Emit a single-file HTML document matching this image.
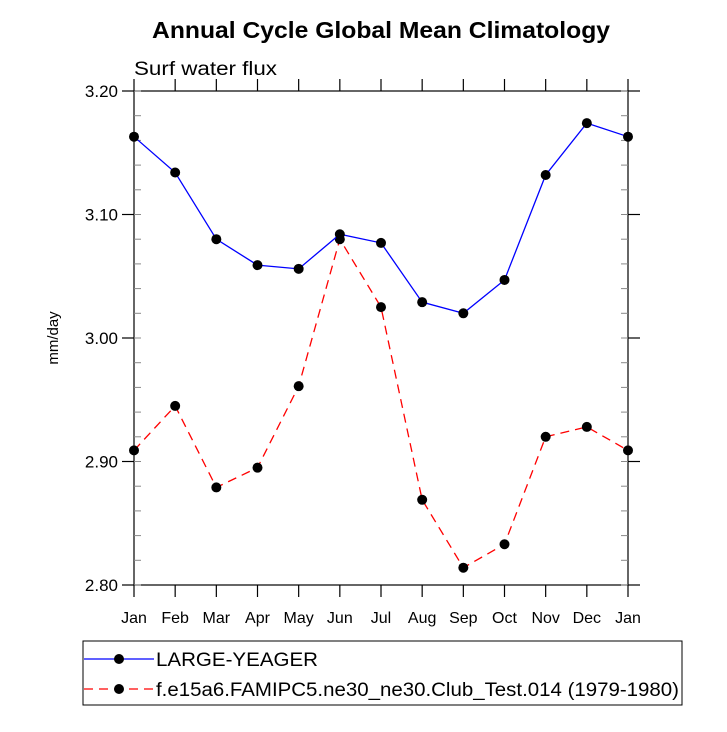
<!DOCTYPE html>
<html><head><meta charset="utf-8"><style>
body{margin:0;background:#fff;}
svg text{font-family:"Liberation Sans",Arial,sans-serif;}
</style></head><body>
<svg id="chart" width="727" height="727" viewBox="0 0 727 727" xmlns="http://www.w3.org/2000/svg">
<text x="152" y="38" font-size="23" font-weight="bold" textLength="458" lengthAdjust="spacingAndGlyphs">Annual Cycle Global Mean Climatology</text>
<text x="134" y="75" font-size="19" textLength="143" lengthAdjust="spacingAndGlyphs">Surf water flux</text>
<text transform="translate(58,338) rotate(-90)" font-size="15" text-anchor="middle">mm/day</text>
<g id="axes"></g>
<g id="series"></g>
<g>
<rect x="83" y="641" width="599" height="64" fill="none" stroke="#000" stroke-width="1"/>
<line x1="84" y1="659" x2="154" y2="659" stroke="#0000ff" stroke-width="1.2"/>
<circle cx="119" cy="659" r="5" fill="#000"/>
<text x="156" y="666" font-size="19" textLength="162" lengthAdjust="spacingAndGlyphs">LARGE-YEAGER</text>
<line x1="84" y1="689" x2="154" y2="689" stroke="#ff0000" stroke-width="1.2" stroke-dasharray="9,6"/>
<circle cx="119" cy="689" r="5" fill="#000"/>
<text x="156" y="696" font-size="19" textLength="523" lengthAdjust="spacingAndGlyphs">f.e15a6.FAMIPC5.ne30_ne30.Club_Test.014 (1979-1980)</text>
</g>
</svg>
<script>
const months=["Jan","Feb","Mar","Apr","May","Jun","Jul","Aug","Sep","Oct","Nov","Dec","Jan"];
const yTicks=[2.8,2.9,3.0,3.1,3.2];
const yTickLabels=["2.80","2.90","3.00","3.10","3.20"];
const largeYeager=[3.163,3.134,3.080,3.059,3.056,3.084,3.077,3.029,3.020,3.047,3.132,3.174,3.163];
const testRun=[2.909,2.945,2.879,2.895,2.961,3.080,3.025,2.869,2.814,2.833,2.920,2.928,2.909];
const L=134,R=628,T=91,B=585,ymin=2.8,ymax=3.2;
const xs=i=>L+(R-L)*i/(months.length-1);
const ys=v=>B-(v-ymin)/(ymax-ymin)*(B-T);
const NS="http://www.w3.org/2000/svg";
function mk(tag,attrs,parent){const e=document.createElementNS(NS,tag);for(const k in attrs)e.setAttribute(k,attrs[k]);parent.appendChild(e);return e;}
const ax=document.getElementById('axes');
const frame=mk('rect',{x:L,y:T,width:R-L,height:B-T,fill:'none',stroke:'#000','stroke-width':1.2},ax);


for(let v=ymin;v<=ymax+1e-9;v+=0.02){const y=ys(v);
 mk('line',{x1:L,y1:y,x2:L+7,y2:y,stroke:'#888'},ax);mk('line',{x1:R,y1:y,x2:R-7,y2:y,stroke:'#888'},ax);}
yTicks.forEach((v,i)=>{const y=ys(v);
 mk('line',{x1:L-12,y1:y,x2:L,y2:y,stroke:'#000','stroke-width':1.2},ax);
 mk('line',{x1:R,y1:y,x2:R+12,y2:y,stroke:'#000','stroke-width':1.2},ax);
 const t=mk('text',{x:L-16,y:y+6,'font-size':17,'text-anchor':'end'},ax);t.textContent=yTickLabels[i];
 
 });
months.forEach((m,i)=>{const x=xs(i);
 mk('line',{x1:x,y1:B+12,x2:x,y2:B,stroke:'#000','stroke-width':1.2},ax);
 mk('line',{x1:x,y1:T-12,x2:x,y2:T,stroke:'#000','stroke-width':1.2},ax);
 const t=mk('text',{x:x,y:B+38,'font-size':16,'text-anchor':'middle'},ax);t.textContent=m;
 
 });
const sg=document.getElementById('series');
function series(vals,color,dash,name){
 const p=mk('polyline',{points:vals.map((v,i)=>xs(i)+','+ys(v)).join(' '),fill:'none',stroke:color,'stroke-width':1.3,'stroke-dasharray':dash},sg);
 
 
 vals.forEach((v,i)=>{const c=mk('circle',{cx:xs(i),cy:ys(v),r:5,fill:'#000'},sg);
  
  });
}
series(testRun,'#ff0000','9,6','test-run');
series(largeYeager,'#0000ff','none','large-yeager');
</script>
</body></html>
